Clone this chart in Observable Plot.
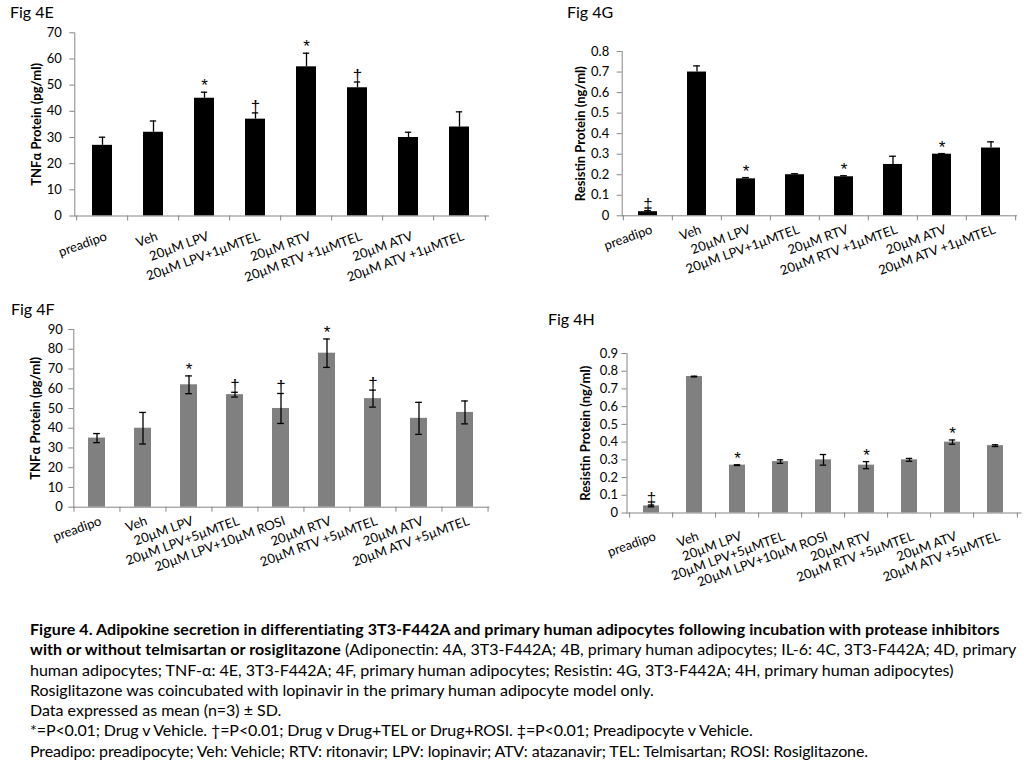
<!DOCTYPE html>
<html><head><meta charset="utf-8">
<script src="https://cdn.jsdelivr.net/npm/d3@7"></script>
<script src="https://cdn.jsdelivr.net/npm/@observablehq/plot@0.6"></script>
<style>
body{margin:0;background:#fff;width:1024px;height:768px;position:relative;overflow:hidden;font-family:Lato,sans-serif;color:#000;}
.panel{position:absolute;}
.panel svg{overflow:visible;}
.fig{position:absolute;font-size:16px;line-height:16px;white-space:nowrap;}
#caption{position:absolute;left:30px;top:619px;font-size:16px;line-height:20.3px;white-space:nowrap;}
#caption b{letter-spacing:0.08px;}
</style></head><body>
<div class="fig" style="left:10px;top:4px">Fig 4E</div>
<div class="fig" style="left:567px;top:4px">Fig 4G</div>
<div class="fig" style="left:11px;top:301px">Fig 4F</div>
<div class="fig" style="left:548px;top:311px">Fig 4H</div>
<div id="E" class="panel" style="left:0px;top:0px"></div>
<div id="G" class="panel" style="left:540px;top:0px"></div>
<div id="F" class="panel" style="left:0px;top:300px"></div>
<div id="H" class="panel" style="left:540px;top:305px"></div>
<div id="caption">
<div><b>Figure 4. Adipokine secretion in differentiating 3T3-F442A and primary human adipocytes following incubation with protease inhibitors</b></div>
<div><b>with or without telmisartan or rosiglitazone</b> (Adiponectin: 4A, 3T3-F442A; 4B, primary human adipocytes; IL-6: 4C, 3T3-F442A; 4D, primary</div>
<div>human adipocytes; TNF-α: 4E, 3T3-F442A; 4F, primary human adipocytes; Resistin: 4G, 3T3-F442A; 4H, primary human adipocytes)</div>
<div>Rosiglitazone was coincubated with lopinavir in the primary human adipocyte model only.</div>
<div>Data expressed as mean (n=3) ± SD.</div>
<div style="letter-spacing:-0.1px">*=P&lt;0.01; Drug v Vehicle. †=P&lt;0.01; Drug v Drug+TEL or Drug+ROSI. ‡=P&lt;0.01; Preadipocyte v Vehicle.</div>
<div style="letter-spacing:-0.12px">Preadipo: preadipocyte; Veh: Vehicle; RTV: ritonavir; LPV: lopinavir; ATV: atazanavir; TEL: Telmisartan; ROSI: Rosiglitazone.</div>
</div>
<script>
// ---- Fig 4E: TNFα, 3T3-F442A ----
const catsE = ["preadipo","Veh","20µM LPV","20µM LPV+1µMTEL","20µM RTV","20µM RTV +1µMTEL","20µM ATV","20µM ATV +1µMTEL"];
const meanE = [27, 32, 45, 37, 57, 49, 30, 34];
const sdE   = [3.1, 4.3, 2.3, 2.4, 5.2, 2.2, 2.0, 5.8];
const markE = ["", "", "*", "†", "*", "†", "", ""];
const ticksE = [0, 10, 20, 30, 40, 50, 60, 70];

// ---- Fig 4G: Resistin, 3T3-F442A ----
const catsG = ["preadipo","Veh","20µM LPV","20µM LPV+1µMTEL","20µM RTV","20µM RTV +1µMTEL","20µM ATV","20µM ATV +1µMTEL"];
const meanG = [0.02, 0.70, 0.18, 0.20, 0.19, 0.25, 0.30, 0.33];
const sdG   = [0.005, 0.03, 0.006, 0.005, 0.005, 0.04, 0.003, 0.03];
const markG = ["‡", "", "*", "", "*", "", "*", ""];
const ticksG = [0, 0.1, 0.2, 0.3, 0.4, 0.5, 0.6, 0.7, 0.8];

// ---- Fig 4F: TNFα, primary human adipocytes ----
const catsF = ["preadipo","Veh","20µM LPV","20µM LPV+5µMTEL","20µM LPV+10µM ROSI","20µM RTV","20µM RTV +5µMTEL","20µM ATV","20µM ATV +5µMTEL"];
const meanF = [35, 40, 62, 57, 50, 78, 55, 45, 48];
const sdF   = [2.3, 8, 4.5, 1.2, 7.6, 7.2, 4.3, 8.1, 5.8];
const markF = ["", "", "*", "†", "†", "*", "†", "", ""];
const ticksF = [0, 10, 20, 30, 40, 50, 60, 70, 80, 90];

// ---- Fig 4H: Resistin, primary human adipocytes ----
const catsH = ["preadipo","Veh","20µM LPV","20µM LPV+5µMTEL","20µM LPV+10µM ROSI","20µM RTV","20µM RTV +5µMTEL","20µM ATV","20µM ATV +5µMTEL"];
const meanH = [0.04, 0.77, 0.27, 0.29, 0.30, 0.27, 0.30, 0.40, 0.38];
const sdH   = [0.005, 0.002, 0.002, 0.01, 0.03, 0.02, 0.008, 0.012, 0.005];
const markH = ["‡", "", "*", "", "", "*", "", "*", ""];
const ticksH = [0, 0.1, 0.2, 0.3, 0.4, 0.5, 0.6, 0.7, 0.8, 0.9];

const AXIS = "#868686";

function panel(el, o) {
  const n = o.cats.length;
  const data = o.cats.map((c, i) => ({cat: c, mean: o.means[i], sd: o.sds[i], mark: o.marks[i],
    hi: o.means[i] + o.sds[i], lo: o.both ? o.means[i] - o.sds[i] : o.means[i]}));
  const g = o.geom;
  const step = (g.width - g.ml - g.mr) / n;
  const bw = step * (1 - g.p);
  const capInset = (bw - 7) / 2;
  const marks = [
    Plot.barY(data, {x: "cat", y: "mean", fill: o.fill}),
    Plot.ruleX(data, {x: "cat", y1: "lo", y2: "hi", stroke: "#000", strokeWidth: 1.3}),
    Plot.tickY(data, {x: "cat", y: "hi", stroke: "#000", strokeWidth: 1.3, insetLeft: capInset, insetRight: capInset}),
    o.both ? Plot.tickY(data, {x: "cat", y: "lo", stroke: "#000", strokeWidth: 1.3, insetLeft: capInset, insetRight: capInset}) : null,
    Plot.frame({anchor: "left", stroke: AXIS}),
    Plot.frame({anchor: "bottom", stroke: AXIS}),
    Plot.axisY({ticks: o.ticks, tickSize: 5, tickPadding: g.tp, tickFormat: d => String(d), stroke: AXIS, fill: "#000", fontSize: 13}),
    Plot.ruleX(o.cats, {x: d => d, dx: -step / 2, y1: 0, y2: 0, insetBottom: -5, stroke: AXIS}),
    Plot.ruleX([o.cats[n - 1]], {x: d => d, dx: step / 2, y1: 0, y2: 0, insetBottom: -5, stroke: AXIS}),
    Plot.text(o.cats, {x: d => d, frameAnchor: "bottom", textAnchor: "end", lineAnchor: "top", rotate: -20, dx: 2, dy: g.ldy, fontSize: 13, fill: "#000"}),
    Plot.text(data.filter(d => d.mark), {x: "cat", y: "hi", text: "mark", lineAnchor: "bottom", dy: -1, fontSize: 17, fontFamily: "Liberation Sans, DejaVu Sans, sans-serif", fill: "#000"}),
    Plot.text([o.title], {frameAnchor: "left", textAnchor: "middle", lineAnchor: "middle", rotate: -90, dx: -g.tdx, fontWeight: "bold", fontSize: 13, fill: "#000"})
  ].filter(Boolean);
  const chart = Plot.plot({
    width: g.width, height: g.height,
    marginLeft: g.ml, marginRight: g.mr, marginTop: g.mt, marginBottom: g.mb,
    x: {type: "band", domain: o.cats, paddingInner: g.p, paddingOuter: g.p / 2, axis: null},
    y: {domain: o.domain, axis: null},
    style: {fontFamily: "Lato, sans-serif", fontSize: "13px", color: "#000", background: "transparent"},
    marks
  });
  document.getElementById(el).appendChild(chart);
}

panel("E", {cats: catsE, means: meanE, sds: sdE, marks: markE, ticks: ticksE, domain: [0, 70],
  title: "TNFα Protein (pg/ml)", fill: "#000", both: false,
  geom: {width: 500, height: 300, ml: 74.3, mr: 12, mt: 32.3, mb: 84.5, p: 0.6, tp: 8, ldy: 15, tdx: 37.5}});
panel("G", {cats: catsG, means: meanG, sds: sdG, marks: markG, ticks: ticksG, domain: [0, 0.8],
  title: "Resistin Protein (ng/ml)", fill: "#000", both: false,
  geom: {width: 484, height: 300, ml: 81.7, mr: 8, mt: 51, mb: 84.7, p: 0.61, tp: 8, ldy: 8.5, tdx: 41.7}});
panel("F", {cats: catsF, means: meanF, sds: sdF, marks: markF, ticks: ticksF, domain: [0, 90],
  title: "TNFα Protein (pg/ml)", fill: "#808080", both: true,
  geom: {width: 500, height: 300, ml: 73.3, mr: 11.7, mt: 29, mb: 93.3, p: 0.625, tp: 6, ldy: 8.5, tdx: 38.3}});
panel("H", {cats: catsH, means: meanH, sds: sdH, marks: markH, ticks: ticksH, domain: [0, 0.9],
  title: "Resistin Protein (ng/ml)", fill: "#808080", both: true,
  geom: {width: 484, height: 300, ml: 86.5, mr: 3.5, mt: 48, mb: 92.5, p: 0.62, tp: 4, ldy: 18, tdx: 41.5}});
</script>
</body></html>
